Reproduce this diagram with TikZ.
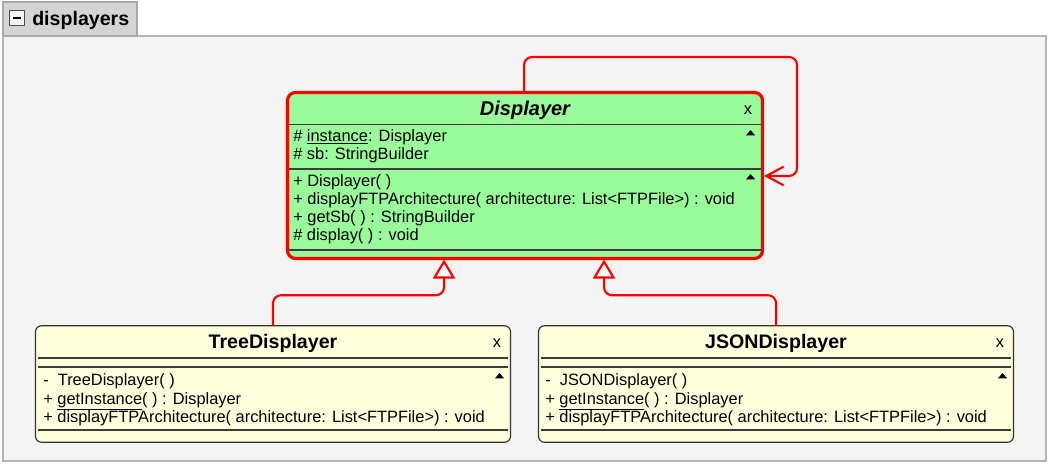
\documentclass[tikz,border=0pt]{standalone}
\usepackage{fontspec}
\setmainfont{Liberation Sans}
\usetikzlibrary{arrows.meta,calc}
\definecolor{pkgfill}{HTML}{F4F4F4}
\definecolor{pkgline}{HTML}{B4B4B4}
\definecolor{tabfill}{HTML}{D4D4D4}
\definecolor{tabline}{HTML}{A8A8A8}
\definecolor{greenfill}{HTML}{99FB99}
\definecolor{yellowfill}{HTML}{FFFFDD}
\definecolor{sepline}{HTML}{3C3C3C}
\definecolor{boxline}{HTML}{333333}
\begin{document}
\begin{tikzpicture}[x=0.75pt,y=-0.75pt,
  body/.style={anchor=base west,inner sep=0pt,font=\fontsize{12.3}{15}\selectfont},
  xmark/.style={anchor=base,inner sep=0pt,font=\fontsize{12.3}{15}\selectfont},
  ctitle/.style={anchor=base,inner sep=0pt,font=\fontsize{14.7}{18}\selectfont\bfseries},
  sepl/.style={draw=sepline,line width=1.1pt},
  tri/.style={fill=black},
  rel/.style={draw=red,line width=1.6pt,rounded corners=6pt},
  gen/.style={rel,-{Triangle[length=14.25pt,width=16.5pt,fill=white,line width=1.6pt]}},
  dep/.style={rel,-{Straight Barb[length=13pt,width=14pt,line width=1.6pt]}},
  ybox/.style={draw=boxline,line width=0.9pt,fill=yellowfill,rounded corners=4.5pt,
    minimum width=356.25pt,minimum height=87.4pt,inner sep=0pt,outer sep=0pt}
]
\useasboundingbox (0,0) rectangle (1048,464);
\fill[white] (0,0) rectangle (1048,464);
% package
\node (pkg) [draw=pkgline,fill=pkgfill,line width=0.9pt,inner sep=0pt,outer sep=0pt,
  minimum width=1043*0.75pt,minimum height=425*0.75pt] at (524.5,248.5) {};
\node (tab) [draw=tabline,fill=tabfill,line width=0.9pt,inner sep=0pt,outer sep=0pt,
  minimum width=134*0.75pt,minimum height=34*0.75pt] at (70,19) {};
\node (minus) [draw=gray!60!black,fill=white!92!gray,line width=0.6pt,inner sep=0pt,
  minimum width=15*0.75pt,minimum height=15*0.75pt] at (17,18) {};
\draw[line width=0.8pt] ($(minus.center)+(-4,0)$) -- ($(minus.center)+(4,0)$);
\node (pkgname) [anchor=base west,inner sep=0pt,font=\fontsize{14.7}{18}\selectfont\bfseries] at (32,25) {displayers};

% Displayer
\node (disp) [draw=red,line width=2.4pt,fill=greenfill,rounded corners=6pt,inner sep=0pt,outer sep=0pt,
  minimum width=475*0.75pt,minimum height=166*0.75pt] at (525,175.5) {};
\node (dtitle) [ctitle,font=\fontsize{15}{18}\selectfont\bfseries\itshape] at (525,115) {Displayer};
\node (dx) [xmark] at (748,114) {x};
\draw[sepl] (289,124.5) -- (761,124.5);
\draw[sepl] (289,169) -- (761,169);
\draw[sepl] (289,250) -- (761,250);
\fill[tri] (746,135.3) -- (755,135.3) -- (750.5,130) -- cycle;
\fill[tri] (746,179.3) -- (755,179.3) -- (750.5,174) -- cycle;
\node (da1) [body] at (293,141.5) {\# \underline{instance}: Displayer};
\node (da2) [body] at (293,159.5) {\# sb: StringBuilder};
\node (dm1) [body] at (293,186.5) {+ Displayer( )};
\node (dm2) [body] at (293,204.5) {+ displayFTPArchitecture( architecture: List<FTPFile>) : void};
\node (dm3) [body] at (293,222.5) {+ getSb( ) : StringBuilder};
\node (dm4) [body] at (293,240.5) {\# display( ) : void};

% TreeDisplayer
\node (tree) [ybox] at (273,384) {};
\node (ttitle) [ctitle] at (273,348.2) {TreeDisplayer};
\node (tx) [xmark] at (497,347) {x};
\draw[sepl] (38,358) -- (508,358);
\draw[sepl] (38,367) -- (508,367);
\draw[sepl] (38,430) -- (508,430);
\fill[tri] (495,378.3) -- (504,378.3) -- (499.5,373) -- cycle;
\node (tm1) [body] at (43,385.5) {-\ \ TreeDisplayer( )};
\node (tm2) [body] at (43,404) {+ \underline{getInstance}( ) : Displayer};
\node (tm3) [body] at (43,422) {+ displayFTPArchitecture( architecture: List<FTPFile>) : void};

% JSONDisplayer
\node (json) [ybox] at (776,384) {};
\node (jtitle) [ctitle] at (776,348.2) {JSONDisplayer};
\node (jx) [xmark] at (1000,347) {x};
\draw[sepl] (541,358) -- (1011,358);
\draw[sepl] (541,367) -- (1011,367);
\draw[sepl] (541,430) -- (1011,430);
\fill[tri] (998,378.3) -- (1007,378.3) -- (1002.5,373) -- cycle;
\node (jm1) [body] at (545,385.5) {-\ \ JSONDisplayer( )};
\node (jm2) [body] at (545,404) {+ \underline{getInstance}( ) : Displayer};
\node (jm3) [body] at (545,422) {+ displayFTPArchitecture( architecture: List<FTPFile>) : void};

% connectors
\coordinate (tip1) at ($(disp.south)+(-81,1)$);
\coordinate (tip2) at ($(disp.south)+(79,1)$);
\coordinate (loopc) at (797,57);
\draw[gen] (tree.north) -- ++(0,-30.5) -| (tip1);
\draw[gen] (json.north) -- ++(0,-30.5) -| (tip2);
\draw[dep] ($(disp.north)+(-1,-1)$) |- (loopc) |- ($(disp.east)+(1.5,0.5)$);
\end{tikzpicture}
\end{document}
